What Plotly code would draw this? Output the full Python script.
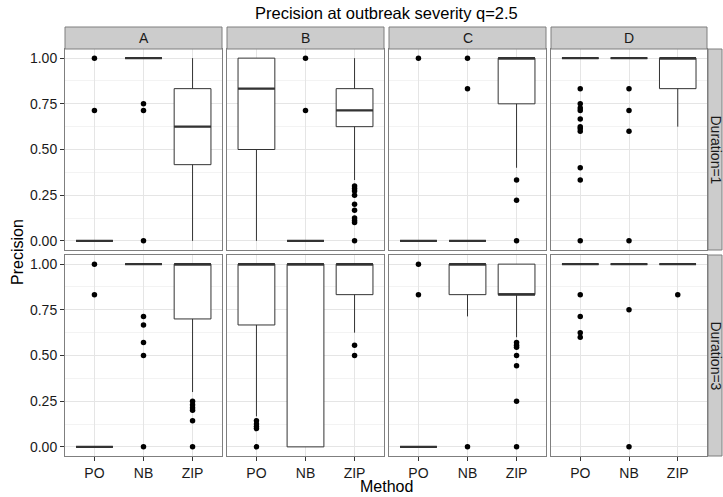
import plotly.graph_objects as go

W, H = 723, 497

methods = ["PO", "NB", "ZIP"]
groups = ["A", "B", "C", "D"]
durations = ["Duration=1", "Duration=3"]

# Box statistics per group (rows) and method (columns), Duration=1
q1_d1 = [[0, 1, 0.417], [0.5, 0, 0.625], [0, 0, 0.75], [1, 1, 0.833]]
med_d1 = [[0, 1, 0.625], [0.833, 0, 0.714], [0, 0, 1], [1, 1, 1]]
q3_d1 = [[0, 1, 0.833], [1, 0, 0.833], [0, 0, 1], [1, 1, 1]]
lo_d1 = [[0, 1, 0], [0, 0, 0.333], [0, 0, 0.4], [1, 1, 0.625]]
hi_d1 = [[0, 1, 1], [1, 0, 1], [0, 0, 1], [1, 1, 1]]
out_d1 = [
    [[1, 0.714], [0.75, 0.714, 0], []],
    [[], [1, 0.714], [0.3, 0.286, 0.273, 0.25, 0.2, 0.167, 0.125, 0.111, 0.1, 0]],
    [[1], [1, 0.833], [0.333, 0.222, 0]],
    [[0.833, 0.75, 0.727, 0.714, 0.667, 0.625, 0.615, 0.6, 0.4, 0.333, 0],
     [0.833, 0.714, 0.6, 0], []],
]

# Duration=3
q1_d3 = [[0, 1, 0.7], [0.667, 0, 0.833], [0, 0.833, 0.833], [1, 1, 1]]
med_d3 = [[0, 1, 1], [1, 1, 1], [0, 1, 0.833], [1, 1, 1]]
q3_d3 = [[0, 1, 1], [1, 1, 1], [0, 1, 1], [1, 1, 1]]
lo_d3 = [[0, 1, 0.3], [0.167, 0, 0.625], [0, 0.714, 0.6], [1, 1, 1]]
hi_d3 = [[0, 1, 1], [1, 1, 1], [0, 1, 1], [1, 1, 1]]
out_d3 = [
    [[1, 0.833], [0.714, 0.667, 0.571, 0.5, 0], [0.25, 0.231, 0.214, 0.2, 0.143, 0]],
    [[0.143, 0.125, 0.111, 0.1, 0], [], [0.556, 0.5]],
    [[1, 0.833], [0], [0.571, 0.556, 0.545, 0.5, 0.444, 0.25, 0]],
    [[0.833, 0.714, 0.625, 0.6], [0.75, 0], [0.833]],
]

stats = [
    (q1_d1, med_d1, q3_d1, lo_d1, hi_d1, out_d1),
    (q1_d3, med_d3, q3_d3, lo_d3, hi_d3, out_d3),
]

FONT = "Liberation Sans, Arial, Helvetica, sans-serif"
LINE = "#333333"
BORDER = "#7F7F7F"

# panel geometry in pixels
col_x = [(65, 222), (227, 384), (389, 546), (551, 707)]
row_y = [(49, 250), (255, 456)]
strip_top = (27, 49)
strip_right = (708, 722)


def px_x(v):
    return v / W


def px_y(v):
    return 1 - v / H


fig = go.Figure()
layout_axes = {}
BW = 0.75

for r, (q1s, meds, q3s, los, his, outs) in enumerate(stats):
    for c, g in enumerate(groups):
        idx = r * 4 + c + 1
        xa = "x" if idx == 1 else f"x{idx}"
        ya = "y" if idx == 1 else f"y{idx}"
        for m, meth in enumerate(methods):
            fig.add_trace(go.Box(
                x=[m], q1=[q1s[c][m]], median=[meds[c][m]], q3=[q3s[c][m]],
                lowerfence=[los[c][m]], upperfence=[his[c][m]],
                width=BW, boxpoints=False, whiskerwidth=0,
                fillcolor="white", line=dict(color=LINE, width=1),
                xaxis=xa, yaxis=ya, showlegend=False, hoverinfo="skip",
            ))
            # heavier median bar
            fig.add_trace(go.Scatter(
                x=[m - BW / 2, m + BW / 2], y=[meds[c][m], meds[c][m]],
                mode="lines", line=dict(color=LINE, width=2.2),
                xaxis=xa, yaxis=ya, showlegend=False, hoverinfo="skip",
            ))
            pts = outs[c][m]
            if pts:
                fig.add_trace(go.Scatter(
                    x=[m] * len(pts), y=pts, mode="markers",
                    marker=dict(color="black", size=5.5),
                    xaxis=xa, yaxis=ya, showlegend=False, hoverinfo="skip",
                ))

        x0, x1 = col_x[c]
        y0, y1 = row_y[r]
        xname = "xaxis" if idx == 1 else f"xaxis{idx}"
        yname = "yaxis" if idx == 1 else f"yaxis{idx}"
        bottom = r == 1
        left = c == 0
        layout_axes[xname] = dict(
            domain=[px_x(x0), px_x(x1)], anchor=ya, range=[-0.6, 2.6],
            tickvals=[0, 1, 2], ticktext=methods,
            showticklabels=bottom, ticks="outside" if bottom else "",
            ticklen=4, tickcolor=LINE, tickwidth=1,
            showgrid=True, gridcolor="#E5E5E5", gridwidth=1,
            showline=True, linecolor=BORDER, linewidth=1, mirror=True,
            zeroline=False, fixedrange=True,
            tickfont=dict(family=FONT, size=14, color="#1a1a1a"),
        )
        layout_axes[yname] = dict(
            domain=[px_y(y1), px_y(y0)], anchor=xa, range=[-0.05, 1.05],
            tickvals=[0, 0.25, 0.5, 0.75, 1.0],
            ticktext=["0.00", "0.25", "0.50", "0.75", "1.00"],
            showticklabels=left, ticks="outside" if left else "",
            ticklen=4, tickcolor=LINE, tickwidth=1,
            showgrid=True, gridcolor="#E5E5E5", gridwidth=1,
            minor=dict(tickvals=[0.125, 0.375, 0.625, 0.875], showgrid=True,
                       gridcolor="#F3F3F3", gridwidth=1, ticks=""),
            showline=True, linecolor=BORDER, linewidth=1, mirror=True,
            zeroline=False, fixedrange=True,
            tickfont=dict(family=FONT, size=14, color="#1a1a1a"),
        )

shapes = []
annotations = []
# column strips
for c, g in enumerate(groups):
    x0, x1 = col_x[c]
    shapes.append(dict(type="rect", xref="paper", yref="paper",
                       x0=px_x(x0), x1=px_x(x1), y0=px_y(strip_top[1]), y1=px_y(strip_top[0]),
                       fillcolor="#CCCCCC", line=dict(color=BORDER, width=1)))
    annotations.append(dict(text=g, xref="paper", yref="paper",
                            x=px_x((x0 + x1) / 2), y=px_y((strip_top[0] + strip_top[1]) / 2),
                            showarrow=False, xanchor="center", yanchor="middle",
                            font=dict(family=FONT, size=14, color="#1a1a1a")))
# row strips
for r, d in enumerate(durations):
    y0, y1 = row_y[r]
    shapes.append(dict(type="rect", xref="paper", yref="paper",
                       x0=px_x(strip_right[0]), x1=px_x(strip_right[1]),
                       y0=px_y(y1), y1=px_y(y0),
                       fillcolor="#CCCCCC", line=dict(color=BORDER, width=1)))
    annotations.append(dict(text=d, xref="paper", yref="paper",
                            x=px_x((strip_right[0] + strip_right[1]) / 2 + 1), y=px_y((y0 + y1) / 2),
                            showarrow=False, textangle=90, xanchor="center", yanchor="middle",
                            font=dict(family=FONT, size=14, color="#1a1a1a")))

# titles
annotations.append(dict(text="Precision at outbreak severity q=2.5", xref="paper", yref="paper",
                        x=px_x(386), y=px_y(13), showarrow=False,
                        xanchor="center", yanchor="middle",
                        font=dict(family=FONT, size=16.5, color="black")))
annotations.append(dict(text="Method", xref="paper", yref="paper",
                        x=px_x(386), y=px_y(486), showarrow=False,
                        xanchor="center", yanchor="middle",
                        font=dict(family=FONT, size=16, color="black")))
annotations.append(dict(text="Precision", xref="paper", yref="paper",
                        x=px_x(17), y=px_y(252), showarrow=False, textangle=-90,
                        xanchor="center", yanchor="middle",
                        font=dict(family=FONT, size=16, color="black")))

fig.update_layout(
    width=W, height=H,
    margin=dict(l=0, r=0, t=0, b=0),
    paper_bgcolor="white", plot_bgcolor="white",
    shapes=shapes, annotations=annotations,
    showlegend=False,
    **layout_axes,
)

fig.write_html("out.html", config={"displayModeBar": False})
